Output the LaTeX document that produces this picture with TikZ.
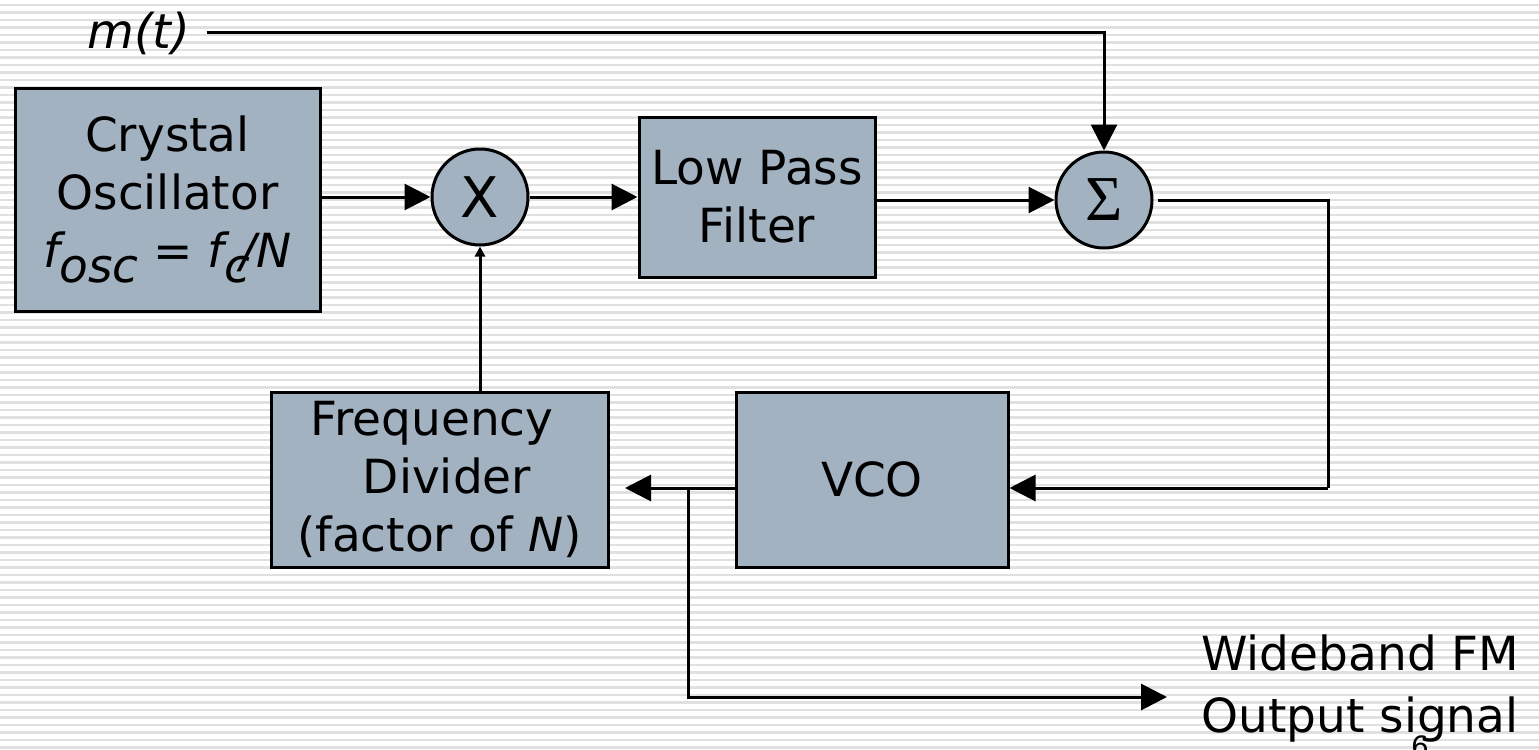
\documentclass[tikz,border=0pt]{standalone}
\usepackage{fontspec}
\setmainfont{DejaVu Sans}
\newfontfamily\symfont{Liberation Serif}
\usetikzlibrary{arrows.meta}
\definecolor{boxfill}{RGB}{163,178,193}
\definecolor{stripe}{RGB}{224,224,224}
\begin{document}
\begin{tikzpicture}[x=0.5pt,y=-0.5pt,
  blk/.style={draw=black, line width=1.5pt, fill=boxfill, inner sep=0pt, align=center,
              font=\fontsize{23.5}{29}\selectfont},
  sumnode/.style={circle, draw=black, line width=1.5pt, fill=boxfill, minimum size=48pt, inner sep=0pt},
  conn/.style={line width=1.5pt, -{Triangle[length=13pt,width=13pt]}},
  smallconn/.style={line width=1.5pt, -{Triangle[length=5pt,width=5pt]}},
  wire/.style={line width=1.5pt},
  lbl/.style={font=\fontsize{23.5}{31}\selectfont, align=left, inner sep=0pt}
]
\useasboundingbox (0,0) rectangle (1539,750);
\fill[white] (0,0) rectangle (1539,750);
\foreach \k in {0,...,99} \fill[stripe] (0,{3.8+7.5*\k}) rectangle (1539,{6.3+7.5*\k});

% blocks
\node[blk, minimum width=152.5pt, minimum height=111.5pt] (osc) at (167.5,199.5)
  {Crystal\\Oscillator\\{\itshape f\raisebox{-0.3em}{osc} = f\raisebox{-0.3em}{c}\kern-0.2em/N}};
\node[sumnode, font=\fontsize{28}{30}\selectfont] (mul) at (480,197) {X};
\node[blk, minimum width=118pt, minimum height=80pt] (lpf) at (757,197) {Low Pass\\Filter};
\node[sumnode, font=\symfont\fontsize{32}{34}\selectfont] (sum) at (1104,200) {Σ};
\node[blk, minimum width=136pt, minimum height=87.5pt] (vco) at (872,479.5) {VCO};
\node[blk, minimum width=168.5pt, minimum height=87.5pt] (fd) at (439.5,479.5)
  {Frequency\hspace*{0.318em}\\\hspace*{0.318em}Divider\\(factor of \textit{N})};

% labels
\node[font=\itshape\fontsize{24}{26}\selectfont, anchor=base west, inner sep=0pt] (m) at (87,48) {m(t)};
\node[lbl, anchor=north west] (out) at (1201,634) {Wideband FM\\Output signal};
\node[font=\fontsize{14}{16}\selectfont, anchor=north, inner sep=0pt] (pg) at (1420,735) {6};

% coordinates
\coordinate (r1) at (1328,200);
\coordinate (r2) at (1328,488);
\coordinate (fdin) at (625,488);
\coordinate (br) at (688,488);
\coordinate (bot) at (688,697);
\coordinate (outtip) at (1167,697);

% connectors
\draw[conn] ([xshift=8pt]m.east) -| (sum.north);
\draw[conn] (osc.east |- mul.west) -- (mul.west);
\draw[conn] (mul.east) -- (lpf.west |- mul.east);
\draw[conn] (lpf.east |- sum.west) -- (sum.west);
\draw[wire] ([xshift=2pt]sum.east) -- (r1) -- (r2);
\draw[conn] (r2) -- (r2 -| vco.east);
\draw[conn] (r2 -| vco.west) -- (fdin);
\draw[conn] (br) -- (bot) -- (outtip);
\draw[smallconn] (fd.north -| mul.south) -- (mul.south);
\end{tikzpicture}
\end{document}
